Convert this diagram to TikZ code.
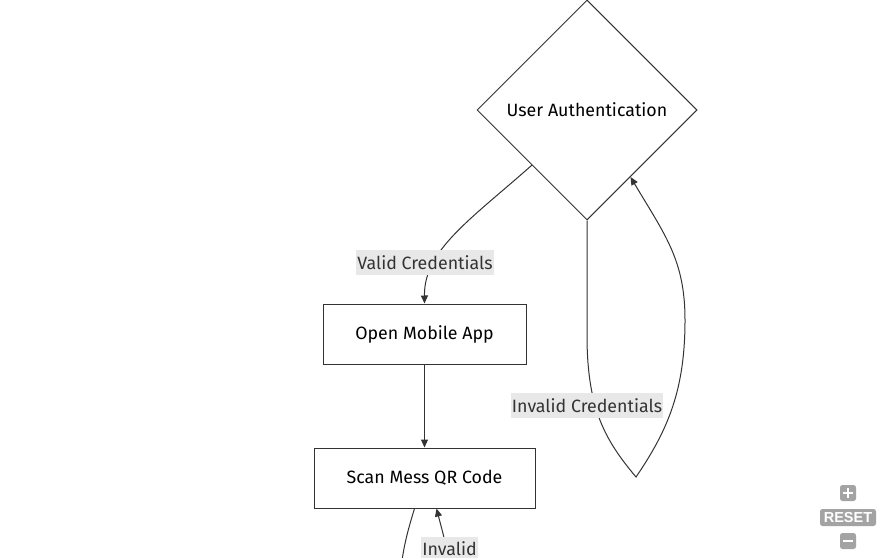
\documentclass[tikz,border=0pt]{standalone}
\usepackage{fontspec}
\setmainfont{Fira Sans}
\newfontfamily\btnfont{Liberation Sans}
\usetikzlibrary{shapes.geometric,arrows.meta}
\definecolor{edgegray}{HTML}{333333}
\definecolor{labelbg}{HTML}{E8E8E8}
\definecolor{btngray}{HTML}{A3A3A3}
\tikzset{
  nodefont/.style={font=\fontsize{17.8}{21}\selectfont},
  stepbox/.style={draw=edgegray, line width=1pt, fill=white, minimum height=60pt, inner sep=0pt, nodefont},
  decision/.style={diamond, draw=edgegray, line width=1pt, fill=white, minimum width=220pt, minimum height=220pt, inner sep=0pt, nodefont},
  flow/.style={draw=edgegray, line width=1pt, -{Triangle[length=8pt,width=7pt]}},
  edgelabel/.style={fill=labelbg, text=edgegray, inner sep=1pt, minimum height=25pt, nodefont},
  zoombtn/.style={fill=btngray, rounded corners=2.5pt, inner sep=0pt}
}
\begin{document}
\begin{tikzpicture}[x=1pt,y=-1pt]
    \useasboundingbox (0,0) rectangle (885,557);
    \clip (0,0) rectangle (885,557);
    % nodes
    \node[decision] (auth) at (587,110) {User Authentication};
    \node[stepbox, minimum width=203pt] (app) at (424.5,334) {Open Mobile App};
    \node[stepbox, minimum width=221pt] (scan) at (424.5,478) {Scan Mess QR Code};
    % edges
    \draw[flow] (auth.south west) .. controls (470,220) and (424,250) .. (app.north);
    \node[edgelabel] (validlbl) at (425,262.5) {Valid Credentials};
    \draw[flow] (app.south) -- (scan.north);
    \draw[flow] (auth.south) -- (587,340) .. controls (588,410) and (605,440) .. (636,477)
        .. controls (668,430) and (685,390) .. (685,320)
        .. controls (685,260) and (665,235) .. (auth.-57);
    \node[edgelabel] (invalidlbl) at (587,405.5) {Invalid Credentials};
    % edges leaving the view
    \coordinate (loopout) at (400,580);
    \coordinate (loopin) at (452,580);
    \draw[draw=edgegray, line width=1pt] ([xshift=-10pt]scan.south) .. controls (408,530) and (402,550) .. (loopout);
    \draw[flow] (loopin) .. controls (448,550) and (442,530) .. ([xshift=12pt]scan.south);
    \node[edgelabel] (qrlbl) at (449.5,549) {Invalid};
    % zoom controls
    \node[zoombtn, minimum size=16pt] (zoomin) at (848,493) {};
    \draw[white, line width=2.6pt] ([xshift=-5pt]zoomin.center) -- ([xshift=5pt]zoomin.center);
    \draw[white, line width=2.6pt] ([yshift=-5pt]zoomin.center) -- ([yshift=5pt]zoomin.center);
    \node[zoombtn, minimum width=56pt, minimum height=17pt, text=white, font=\btnfont\fontsize{14.5}{16}\selectfont\bfseries] (reset) at (848,517.5) {RESET};
    \node[zoombtn, minimum size=16pt] (zoomout) at (848,541) {};
    \draw[white, line width=2.6pt] ([xshift=-5pt]zoomout.center) -- ([xshift=5pt]zoomout.center);
\end{tikzpicture}
\end{document}
